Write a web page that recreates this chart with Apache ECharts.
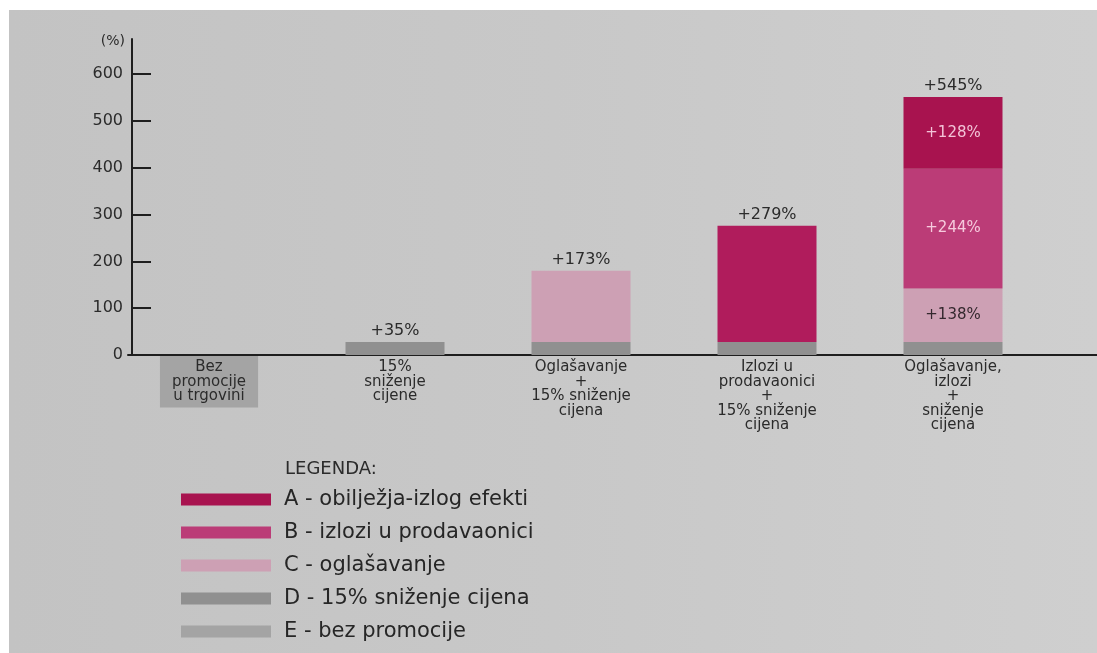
<!DOCTYPE html>
<html>
<head>
<meta charset="utf-8">
<script src="https://cdn.jsdelivr.net/npm/echarts@6/dist/echarts.min.js"></script>
<style>
  html, body { margin: 0; padding: 0; background: #fff; }
  #paper {
    position: absolute; left: 9px; top: 10px; right: 0; bottom: 0;
    background: linear-gradient(90deg, #c3c3c3 0%, #c8c8c8 50%, #cfcfcf 100%);
  }
  #chart { position: absolute; left: 0; top: 0; width: 1097px; height: 653px; }
</style>
</head>
<body>
<div id="paper"></div>
<div id="chart"></div>
<script>
// categories along the x axis
const categories = [
  'Bez\npromocije\nu trgovini',
  '15%\nsniženje\ncijene',
  'Oglašavanje\n+\n15% sniženje\ncijena',
  'Izlozi u\nprodavaonici\n+\n15% sniženje\ncijena',
  'Oglašavanje,\nizlozi\n+\nsniženje\ncijena'
];
const yTicks = [0, 100, 200, 300, 400, 500, 600];

// segment heights as drawn in the picture (%)
const valD = [null, 28, 28, 28, 28];
const valC = [null, null, 152, null, 114];
const valB = [null, null, null, 248, 256];
const valA = [null, null, null, null, 153];
const valE = [null, null, null, null, null];

// printed labels
const topLabels = ['', '+35%', '+173%', '+279%', '+545%'];
const labelsC = ['', '', '', '', '+138%'];
const labelsB = ['', '', '', '', '+244%'];
const labelsA = ['', '', '', '', '+128%'];

const names = {
  A: 'A - obilježja-izlog efekti',
  B: 'B - izlozi u prodavaonici',
  C: 'C - oglašavanje',
  D: 'D - 15% sniženje cijena',
  E: 'E - bez promocije'
};

const FONT = '"DejaVu Sans", sans-serif';
const TXT = '#2b2b2b';
const colors = { A: '#a8134f', B: '#bb3c77', C: '#cda0b4', D: '#909090', E: '#a4a4a4' };
const cat4Color = '#b01c5c';

const chart = echarts.init(document.getElementById('chart'));

function inner(labels, color) {
  return {
    show: true,
    position: 'inside',
    fontFamily: FONT,
    fontSize: 15,
    color: color,
    formatter: p => labels[p.dataIndex]
  };
}

chart.setOption({
  animation: false,
  title: {
    text: 'LEGENDA:',
    left: 280,
    top: 455,
    textStyle: { fontFamily: FONT, fontSize: 18, fontWeight: 'normal', color: TXT }
  },
  legend: {
    orient: 'vertical',
    left: 176,
    top: 484,
    itemWidth: 90,
    itemHeight: 12,
    itemGap: 12,
    icon: 'rect',
    data: [names.A, names.B, names.C, names.D, names.E],
    textStyle: { fontFamily: FONT, fontSize: 21, color: '#262626', padding: [0, 0, 0, 8] }
  },
  grid: [
    { left: 116, width: 930, top: 39, bottom: 298 },
    { left: 128, right: 0, top: 39, bottom: 298 }
  ],
  xAxis: [{
    type: 'category',
    gridIndex: 0,
    data: categories.map((c, i) => i === 0
      ? { value: c, textStyle: { backgroundColor: colors.E, padding: [4, 12, 4, 12] } }
      : c),
    axisLine: { show: false },
    axisTick: { show: false },
    axisLabel: {
      interval: 0,
      margin: 1,
      padding: [4, 0, 4, 0],
      fontFamily: FONT,
      fontSize: 15,
      lineHeight: 14.5,
      color: TXT
    }
  }, {
    type: 'value',
    gridIndex: 1,
    min: 0,
    max: 1,
    axisLine: { show: true, lineStyle: { color: '#1e1e1e', width: 2 } },
    axisTick: { show: false },
    axisLabel: { show: false },
    splitLine: { show: false }
  }],
  yAxis: [{
    type: 'value',
    gridIndex: 0,
    min: 0,
    max: 675,
    offset: -16,
    name: '(%)',
    nameLocation: 'end',
    nameGap: -2,
    nameTextStyle: { fontFamily: FONT, fontSize: 14, color: TXT, align: 'right', verticalAlign: 'middle', padding: [0, 7, 0, 0] },
    axisLine: { show: true, lineStyle: { color: '#1e1e1e', width: 2 } },
    axisTick: { show: true, inside: true, length: 19, customValues: yTicks, lineStyle: { color: '#1e1e1e', width: 2 } },
    axisLabel: { customValues: yTicks, margin: 9, fontFamily: FONT, fontSize: 16, color: TXT },
    splitLine: { show: false }
  }, {
    type: 'value',
    gridIndex: 1,
    show: false
  }],
  series: [
    {
      name: names.E, type: 'bar', stack: 'total', barWidth: 99,
      itemStyle: { color: colors.E }, data: valE
    },
    {
      name: names.D, type: 'bar', stack: 'total', barWidth: 99,
      itemStyle: { color: colors.D }, data: valD
    },
    {
      name: names.C, type: 'bar', stack: 'total', barWidth: 99,
      itemStyle: { color: colors.C }, data: valC,
      label: inner(labelsC, '#34282e')
    },
    {
      name: names.B, type: 'bar', stack: 'total', barWidth: 99,
      itemStyle: { color: colors.B },
      data: valB.map((v, i) => i === 3 && v != null ? { value: v, itemStyle: { color: cat4Color } } : v),
      label: inner(labelsB, '#f6cadd')
    },
    {
      name: names.A, type: 'bar', stack: 'total', barWidth: 99,
      itemStyle: { color: colors.A }, data: valA,
      label: inner(labelsA, '#f3c3d7')
    },
    {
      name: 'ukupno', type: 'bar', stack: 'total', barWidth: 99,
      itemStyle: { color: 'transparent' },
      data: topLabels.map(t => t ? 0 : null),
      label: {
        show: true, position: 'top', distance: 3,
        fontFamily: FONT, fontSize: 16, color: TXT,
        formatter: p => topLabels[p.dataIndex]
      }
    }
  ]
});
</script>
</body>
</html>
